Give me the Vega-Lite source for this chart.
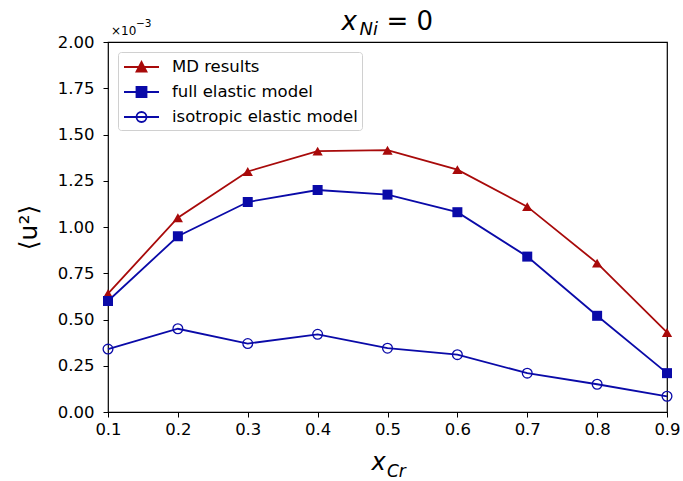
{
  "$schema": "https://vega.github.io/schema/vega-lite/v6.json",
  "width": 559,
  "height": 370,
  "autosize": {"type": "none"},
  "padding": {"left": 108, "top": 42, "right": 16, "bottom": 69},
  "background": "white",
  "config": {
    "font": "DejaVu Sans",
    "view": {"stroke": "#000000", "strokeWidth": 1.2},
    "axis": {
      "labelFont": "DejaVu Sans",
      "labelFontSize": 16.5,
      "labelColor": "#000000",
      "tickColor": "#000000",
      "tickSize": 5,
      "tickWidth": 1,
      "domain": false,
      "grid": false,
      "labelFlush": false
    }
  },
  "datasets": {
    "pts": [
      {"x": 0.1, "series": "MD results", "u2": 0.64},
      {"x": 0.2, "series": "MD results", "u2": 1.05},
      {"x": 0.3, "series": "MD results", "u2": 1.30},
      {"x": 0.4, "series": "MD results", "u2": 1.41},
      {"x": 0.5, "series": "MD results", "u2": 1.415},
      {"x": 0.6, "series": "MD results", "u2": 1.31},
      {"x": 0.7, "series": "MD results", "u2": 1.11},
      {"x": 0.8, "series": "MD results", "u2": 0.805},
      {"x": 0.9, "series": "MD results", "u2": 0.43},
      {"x": 0.1, "series": "full elastic model", "u2": 0.60},
      {"x": 0.2, "series": "full elastic model", "u2": 0.95},
      {"x": 0.3, "series": "full elastic model", "u2": 1.135},
      {"x": 0.4, "series": "full elastic model", "u2": 1.20},
      {"x": 0.5, "series": "full elastic model", "u2": 1.175},
      {"x": 0.6, "series": "full elastic model", "u2": 1.08},
      {"x": 0.7, "series": "full elastic model", "u2": 0.84},
      {"x": 0.8, "series": "full elastic model", "u2": 0.52},
      {"x": 0.9, "series": "full elastic model", "u2": 0.21},
      {"x": 0.1, "series": "isotropic elastic model", "u2": 0.34},
      {"x": 0.2, "series": "isotropic elastic model", "u2": 0.45},
      {"x": 0.3, "series": "isotropic elastic model", "u2": 0.37},
      {"x": 0.4, "series": "isotropic elastic model", "u2": 0.42},
      {"x": 0.5, "series": "isotropic elastic model", "u2": 0.345},
      {"x": 0.6, "series": "isotropic elastic model", "u2": 0.31},
      {"x": 0.7, "series": "isotropic elastic model", "u2": 0.21},
      {"x": 0.8, "series": "isotropic elastic model", "u2": 0.15},
      {"x": 0.9, "series": "isotropic elastic model", "u2": 0.085}
    ],
    "labels": [
      {"t": "x", "px": 0.5, "py": 2, "pos": "title_x"},
      {"t": "Ni", "px": 0.5, "py": 2, "pos": "title_sub"},
      {"t": "= 0", "px": 0.5, "py": 2, "pos": "title_eq"},
      {"t": "×10", "px": 0.1, "py": 2, "pos": "exp_base"},
      {"t": "−3", "px": 0.1, "py": 2, "pos": "exp_sup"},
      {"t": "x", "px": 0.5, "py": 0, "pos": "xlab_x"},
      {"t": "Cr", "px": 0.5, "py": 0, "pos": "xlab_sub"}
    ]
  },
  "layer": [
    {
      "data": {"name": "pts"},
      "mark": {"type": "line", "strokeWidth": 1.8},
      "encoding": {
        "x": {
          "field": "x",
          "type": "quantitative",
          "scale": {"domain": [0.1, 0.9], "nice": false, "zero": false},
          "axis": {
            "values": [0.1, 0.2, 0.3, 0.4, 0.5, 0.6, 0.7, 0.8, 0.9],
            "format": ".1f",
            "labelPadding": 4,
            "title": null
          }
        },
        "y": {
          "field": "u2",
          "type": "quantitative",
          "scale": {"domain": [0, 2], "nice": false},
          "axis": {
            "values": [0, 0.25, 0.5, 0.75, 1, 1.25, 1.5, 1.75, 2],
            "format": ".2f",
            "labelPadding": 9,
            "title": "⟨u²⟩",
            "titleFont": "DejaVu Sans",
            "titleFontSize": 25,
            "titleFontWeight": "normal",
            "titleColor": "#000000",
            "titleAngle": 270,
            "titleAlign": "center",
            "titleBaseline": "middle",
            "titleX": -80,
            "titleY": 185
          }
        },
        "color": {
          "field": "series",
          "type": "nominal",
          "scale": {
            "domain": ["MD results", "full elastic model", "isotropic elastic model"],
            "range": ["#a80a0a", "#0a0aa8", "#0a0aa8"]
          },
          "legend": {
            "title": null,
            "orient": "none",
            "legendX": 10,
            "legendY": 10,
            "padding": 4,
            "symbolSize": 400,
            "labelFont": "DejaVu Sans",
            "labelFontSize": 16.5,
            "labelColor": "#000000",
            "labelOffset": 28,
            "labelLimit": 400,
            "rowPadding": 5,
            "strokeColor": "#d0d0d0",
            "fillColor": "#ffffff",
            "cornerRadius": 3,
            "encode": {
              "symbols": {
                "update": {
                  "shape": {"signal": "datum.value === 'MD results' ? 'M-0.9,0L2.6,0M0.85,-0.5L1.35,0.46L0.35,0.46Z' : (datum.value === 'full elastic model' ? 'M-0.9,0L2.6,0M0.35,-0.5L1.35,-0.5L1.35,0.5L0.35,0.5Z' : 'M-0.9,0L2.6,0M1.35,0A0.5,0.5 0 1,1 0.35,0A0.5,0.5 0 1,1 1.35,0Z')"},
                  "fill": {"signal": "datum.value === 'MD results' ? '#a80a0a' : (datum.value === 'full elastic model' ? '#0a0aa8' : 'transparent')"},
                  "stroke": {"signal": "datum.value === 'MD results' ? '#a80a0a' : '#0a0aa8'"},
                  "strokeWidth": {"value": 1.8},
                  "size": {"value": 400},
                  "opacity": {"value": 1}
                }
              }
            }
          }
        }
      }
    },
    {
      "data": {"name": "pts"},
      "transform": [{"filter": "datum.series === 'MD results'"}],
      "mark": {"type": "point", "shape": "triangle-up", "filled": true, "color": "#a80a0a", "opacity": 1, "size": 105},
      "encoding": {
        "x": {"field": "x", "type": "quantitative"},
        "y": {"field": "u2", "type": "quantitative"}
      }
    },
    {
      "data": {"name": "pts"},
      "transform": [{"filter": "datum.series === 'full elastic model'"}],
      "mark": {"type": "point", "shape": "square", "filled": true, "color": "#0a0aa8", "opacity": 1, "size": 100},
      "encoding": {
        "x": {"field": "x", "type": "quantitative"},
        "y": {"field": "u2", "type": "quantitative"}
      }
    },
    {
      "data": {"name": "pts"},
      "transform": [{"filter": "datum.series === 'isotropic elastic model'"}],
      "mark": {"type": "point", "shape": "circle", "filled": false, "fill": "transparent", "stroke": "#0a0aa8", "strokeWidth": 1.3, "opacity": 1, "size": 95},
      "encoding": {
        "x": {"field": "x", "type": "quantitative"},
        "y": {"field": "u2", "type": "quantitative"}
      }
    },
    {
      "data": {"name": "labels"},
      "transform": [{"filter": "datum.pos === 'title_x'"}],
      "mark": {"type": "text", "align": "left", "baseline": "alphabetic", "fontSize": 26, "fontStyle": "italic", "dx": -46, "dy": -12, "fill": "#000000"},
      "encoding": {"x": {"field": "px", "type": "quantitative"}, "y": {"field": "py", "type": "quantitative"}, "text": {"field": "t"}}
    },
    {
      "data": {"name": "labels"},
      "transform": [{"filter": "datum.pos === 'title_sub'"}],
      "mark": {"type": "text", "align": "left", "baseline": "alphabetic", "fontSize": 18, "fontStyle": "italic", "dx": -28, "dy": -7, "fill": "#000000"},
      "encoding": {"x": {"field": "px", "type": "quantitative"}, "y": {"field": "py", "type": "quantitative"}, "text": {"field": "t"}}
    },
    {
      "data": {"name": "labels"},
      "transform": [{"filter": "datum.pos === 'title_eq'"}],
      "mark": {"type": "text", "align": "left", "baseline": "alphabetic", "fontSize": 26, "dx": -1, "dy": -12, "fill": "#000000"},
      "encoding": {"x": {"field": "px", "type": "quantitative"}, "y": {"field": "py", "type": "quantitative"}, "text": {"field": "t"}}
    },
    {
      "data": {"name": "labels"},
      "transform": [{"filter": "datum.pos === 'exp_base'"}],
      "mark": {"type": "text", "align": "left", "baseline": "alphabetic", "fontSize": 12, "dx": 3, "dy": -7, "fill": "#000000"},
      "encoding": {"x": {"field": "px", "type": "quantitative"}, "y": {"field": "py", "type": "quantitative"}, "text": {"field": "t"}}
    },
    {
      "data": {"name": "labels"},
      "transform": [{"filter": "datum.pos === 'exp_sup'"}],
      "mark": {"type": "text", "align": "left", "baseline": "alphabetic", "fontSize": 10.5, "dx": 28, "dy": -15, "fill": "#000000"},
      "encoding": {"x": {"field": "px", "type": "quantitative"}, "y": {"field": "py", "type": "quantitative"}, "text": {"field": "t"}}
    },
    {
      "data": {"name": "labels"},
      "transform": [{"filter": "datum.pos === 'xlab_x'"}],
      "mark": {"type": "text", "align": "left", "baseline": "alphabetic", "fontSize": 24, "fontStyle": "italic", "dx": -16, "dy": 58, "fill": "#000000"},
      "encoding": {"x": {"field": "px", "type": "quantitative"}, "y": {"field": "py", "type": "quantitative"}, "text": {"field": "t"}}
    },
    {
      "data": {"name": "labels"},
      "transform": [{"filter": "datum.pos === 'xlab_sub'"}],
      "mark": {"type": "text", "align": "left", "baseline": "alphabetic", "fontSize": 17, "fontStyle": "italic", "dx": -0.5, "dy": 65, "fill": "#000000"},
      "encoding": {"x": {"field": "px", "type": "quantitative"}, "y": {"field": "py", "type": "quantitative"}, "text": {"field": "t"}}
    }
  ]
}
